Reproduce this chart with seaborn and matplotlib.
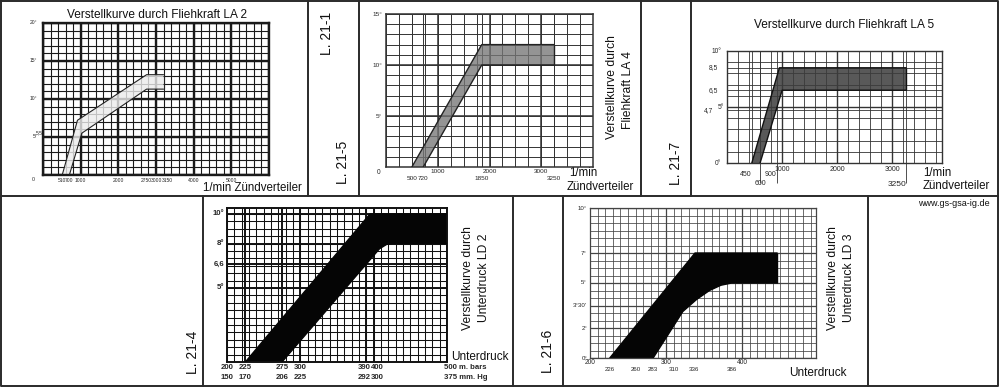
import matplotlib
matplotlib.use("Agg")
import matplotlib.pyplot as plt
import numpy as np
import seaborn as sns

sns.set_theme(style="white")
plt.rcParams["font.family"] = ["Liberation Sans", "DejaVu Sans"]

W, H = 1000, 388
PT = 72 / 100  # points per pixel at dpi 100

# ---- LA 2 (Fliehkraft) ----
la2_rpm_upper = [510, 915, 2750, 3200]
la2_deg_upper = [0, 7.2, 13.2, 13.2]
la2_rpm_lower = [700, 1030, 2750, 3200]
la2_deg_lower = [0, 5.5, 11.3, 11.3]
la2_xticks = [510, 700, 1000, 2000, 2750, 3000, 3150, 4000, 5000]
la2_xlabels = ["510", "700", "1000", "2000", "2750", "3000", "3150", "4000", "5000"]
la2_yticks = [5, 10, 15, 20]
la2_ylabels = ["5°", "10°", "15°", "20°"]

# ---- LA 4 ----
la4_rpm_upper = [500, 1850, 3250]
la4_deg_upper = [0, 12, 12]
la4_rpm_lower = [720, 1850, 3250]
la4_deg_lower = [0, 10, 10]
la4_xticks_main = [1000, 2000, 3000]
la4_xticks_mark = [500, 720, 1850, 3250]
la4_yticks = [5, 10, 15]
la4_ylabels = ["5°", "10°", "15°"]

# ---- LA 5 ----
la5_rpm_upper = [450, 950, 3250]
la5_deg_upper = [0, 8.5, 8.5]
la5_rpm_lower = [600, 1000, 3250]
la5_deg_lower = [0, 6.5, 6.5]
la5_xticks_main = [1000, 2000, 3000]
la5_yticks = [0, 4.7, 5, 6.5, 8.5, 10]
la5_ylabels = ["0°", "4,7", "5°", "6,5", "8,5", "10°"]

# ---- LD 2 (Unterdruck) ----
ld2_mbar_upper = [225, 395, 500]
ld2_deg_upper = [0, 10, 10]
ld2_mbar_lower = [275, 408, 418, 426, 500]
ld2_deg_lower = [0, 7.65, 7.95, 8, 8]
ld2_xticks = [200, 225, 275, 300, 390, 400, 500]
ld2_mbar_labels = ["200", "225", "275", "300", "390", "400", "500 m. bars"]
ld2_hg_labels = ["150", "170", "206", "225", "292", "300", "375 mm. Hg"]
ld2_yticks = [5, 6.6, 8, 10]
ld2_ylabels = ["5°", "6,6", "8°", "10°"]

# ---- LD 3 ----
ld3_mbar_upper = [226, 338, 446]
ld3_deg_upper = [0, 7, 7]
ld3_mbar_lower = [283, 300, 322, 340, 357, 372, 386, 446]
ld3_deg_lower = [0, 1.35, 3.1, 3.9, 4.5, 4.85, 5, 5]
ld3_xticks_high = [200, 300, 400]
ld3_xticks_low = [226, 260, 283, 310, 336, 386]
ld3_yticks = [0, 2, 3.5, 5, 7, 10]
ld3_ylabels = ["0°", "2°", "3°30'", "5°", "7°", "10°"]


def px_axes(fig, x0, y0, x1, y1):
    ax = fig.add_axes([x0 / W, 1 - y1 / H, (x1 - x0) / W, (y1 - y0) / H])
    ax.set_facecolor("none")
    ax.set_xticks([])
    ax.set_yticks([])
    return ax


def grid(ax, xs, ys, color, lw, xs_thick=(), ys_thick=(), lw_thick=None):
    y0, y1 = ax.get_ylim()
    x0, x1 = ax.get_xlim()
    ax.vlines(xs, y0, y1, colors=color, lw=lw, zorder=1)
    ax.hlines(ys, x0, x1, colors=color, lw=lw, zorder=1)
    if lw_thick:
        ax.vlines(list(xs_thick), y0, y1, colors=color, lw=lw_thick, zorder=1)
        ax.hlines(list(ys_thick), x0, x1, colors=color, lw=lw_thick, zorder=1)
    for s in ax.spines.values():
        s.set_color(color)
        s.set_linewidth(lw_thick or lw)


def band(ax, xu, yu, xl, yl, face, alpha, edge, lw):
    ax.fill(xu + xl[::-1], yu + yl[::-1], color=face, alpha=alpha, lw=0, zorder=2)
    sns.lineplot(x=xu, y=yu, ax=ax, sort=False, estimator=None, color=edge, lw=lw, zorder=3)
    sns.lineplot(x=xl, y=yl, ax=ax, sort=False, estimator=None, color=edge, lw=lw, zorder=3)
    ax.vlines([xu[-1]], yl[-1], yu[-1], colors=edge, lw=lw, zorder=3)
    ax.set_xlabel("")
    ax.set_ylabel("")


def xlab(ax, x, s, dy, size, ha="center", dx=0, **kw):
    ax.annotate(s, xy=(x, 0), xycoords=("data", "axes fraction"),
                xytext=(dx * PT, -dy * PT), textcoords="offset points",
                ha=ha, va="top", fontsize=size, **kw)


def ylab(ax, y, s, dx, size, **kw):
    ax.annotate(s, xy=(0, y), xycoords=("axes fraction", "data"),
                xytext=(-dx * PT, 0), textcoords="offset points",
                ha="right", va="center", fontsize=size, **kw)


fig = plt.figure(figsize=(W / 100, H / 100), dpi=100)
fig.patch.set_facecolor("white")

# background layer for frames and free text
bg = fig.add_axes([0, 0, 1, 1])
bg.set_xlim(0, W)
bg.set_ylim(H, 0)
bg.set_axis_off()
frame = dict(color="#2a2a2a", lw=1.4)
bg.plot([1, 998, 998, 1, 1], [1, 1, 386, 386, 1], **frame)
bg.plot([1, 998], [196, 196], **frame)
for x in (308, 359, 641, 691):
    bg.plot([x, x], [1, 196], **frame)
for x in (203, 513, 563, 868):
    bg.plot([x, x], [196, 386], **frame)

txt = dict(color="#111111")
bg.text(157, 15, "Verstellkurve durch Fliehkraft LA 2", fontsize=8.6, ha="center", va="center", **txt)
bg.text(302, 188, "1/min Zündverteiler", fontsize=8.3, ha="right", va="center", **txt)
bg.text(327, 33, "L. 21-1", fontsize=10, rotation=90, ha="center", va="center", **txt)
bg.text(343, 162, "L. 21-5", fontsize=10, rotation=90, ha="center", va="center", **txt)
bg.text(612, 87, "Verstellkurve durch", fontsize=8.7, rotation=90, ha="center", va="center", **txt)
bg.text(628, 90, "Fliehkraft LA 4", fontsize=8.7, rotation=90, ha="center", va="center", **txt)
bg.text(569, 173, "1/min", fontsize=8.3, ha="left", va="center", **txt)
bg.text(567, 187, "Zündverteiler", fontsize=8.3, ha="left", va="center", **txt)
bg.text(676, 163, "L. 21-7", fontsize=10, rotation=90, ha="center", va="center", **txt)
bg.text(844, 25, "Verstellkurve durch Fliehkraft LA 5", fontsize=8.6, ha="center", va="center", **txt)
bg.text(923, 173, "1/min", fontsize=8.3, ha="left", va="center", **txt)
bg.text(923, 186, "Zündverteiler", fontsize=8.3, ha="left", va="center", **txt)
bg.text(193, 352, "L. 21-4", fontsize=10, rotation=90, ha="center", va="center", **txt)
bg.text(468, 278, "Verstellkurve durch", fontsize=8.7, rotation=90, ha="center", va="center", **txt)
bg.text(484, 278, "Unterdruck LD 2", fontsize=8.7, rotation=90, ha="center", va="center", **txt)
bg.text(451, 357, "Unterdruck", fontsize=8.5, ha="left", va="center", **txt)
bg.text(548, 351, "L. 21-6", fontsize=10, rotation=90, ha="center", va="center", **txt)
bg.text(833, 278, "Verstellkurve durch", fontsize=8.7, rotation=90, ha="center", va="center", **txt)
bg.text(849, 278, "Unterdruck LD 3", fontsize=8.7, rotation=90, ha="center", va="center", **txt)
bg.text(789, 373, "Unterdruck", fontsize=8.5, ha="left", va="center", **txt)
bg.text(990, 203, "www.gs-gsa-ig.de", fontsize=6.5, ha="right", va="center", **txt)

# ---- LA 2 ----
ax = px_axes(fig, 43, 23, 269, 175)
ax.set_xlim(0, 6000)
ax.set_ylim(0, 20)
grid(ax, np.arange(0, 6001, 200), np.arange(0, 21, 1), "#1a1a1a", 0.8,
     np.arange(0, 6001, 1000), np.arange(0, 21, 5), 1.7)
band(ax, la2_rpm_upper, la2_deg_upper, la2_rpm_lower, la2_deg_lower, "#ececec", 0.8, "#222222", 0.8)
for x, s in zip(la2_xticks, la2_xlabels):
    xlab(ax, x, s, 3, 3.6, ha="left" if x == 3150 else "center")
for y, s in zip(la2_yticks, la2_ylabels):
    ylab(ax, y, s, 6, 3.6)
ylab(ax, 5.5, "5,5", 0, 3.6)
ax.annotate("0", xy=(0, 0), xytext=(-10 * PT, -5 * PT), textcoords="offset points",
            ha="center", va="center", fontsize=3.8)

# ---- LA 4 ----
ax = px_axes(fig, 386, 14, 593, 167)
ax.set_xlim(0, 4000)
ax.set_ylim(0, 15)
grid(ax, list(np.arange(0, 4001, 250)) + la4_xticks_mark, np.arange(0, 16, 1), "#333333", 0.7,
     la4_xticks_main, la4_yticks, 1.1)
band(ax, la4_rpm_upper, la4_deg_upper, la4_rpm_lower, la4_deg_lower, "#767676", 0.78, "#222222", 1.0)
for x in la4_xticks_main:
    xlab(ax, x, str(x), 2, 4.6)
for x in la4_xticks_mark:
    xlab(ax, x, str(x), 9, 4.6)
for y, s in zip(la4_yticks, la4_ylabels):
    ylab(ax, y, s, 4, 4.6)
ax.annotate("0", xy=(0, 0), xytext=(-7 * PT, -5 * PT), textcoords="offset points",
            ha="center", va="center", fontsize=4.8)

# ---- LA 5 ----
ax = px_axes(fig, 727, 51, 942, 163)
ax.set_xlim(0, 3900)
ax.set_ylim(0, 10)
grid(ax, list(np.arange(0, 3901, 200)) + [450, 600, 900, 3250], list(np.arange(0, 11, 1)) + [4.7, 6.5, 8.5],
     "#333333", 0.6, la5_xticks_main, [5], 1.0)
ax.vlines([600, 900, 3250], -1.8, 0, colors="#333333", lw=0.6, clip_on=False)
band(ax, la5_rpm_upper, la5_deg_upper, la5_rpm_lower, la5_deg_lower, "#3c3c3c", 0.85, "#111111", 1.0)
for x in la5_xticks_main:
    xlab(ax, x, str(x), 3, 5)
xlab(ax, 450, "450", 8, 5, ha="right")
xlab(ax, 900, "900", 8, 5, ha="right")
xlab(ax, 600, "600", 17, 5)
xlab(ax, 3250, "3250", 18, 6, ha="right")
la5_dx = [6, 14, 3, 9, 9, 6]
for y, s, dx in zip(la5_yticks, la5_ylabels, la5_dx):
    ylab(ax, y, s, dx, 4.8)

# ---- LD 2 ----
ax = px_axes(fig, 227, 208, 447, 362)
ax.set_xlim(200, 500)
ax.set_ylim(0, 10.4)
grid(ax, np.arange(200, 501, 10), np.arange(0, 10.5, 0.5), "#111111", 0.75,
     ld2_xticks, ld2_yticks, 1.4)
band(ax, ld2_mbar_upper, ld2_deg_upper, ld2_mbar_lower, ld2_deg_lower, "#050505", 1.0, "#050505", 1.0)
for x, s1, s2 in zip(ld2_xticks, ld2_mbar_labels, ld2_hg_labels):
    if x == 500:
        ha, off = "left", -3
    elif x == 390:
        ha, off = "right", 4
    elif x == 400:
        ha, off = "left", -3
    else:
        ha, off = "center", 0
    xlab(ax, x, s1, 2, 5.6, ha=ha, dx=off, fontweight="bold")
    xlab(ax, x, s2, 12, 5.6, ha=ha, dx=off, fontweight="bold")
for y, s in zip(ld2_yticks, ld2_ylabels):
    ylab(ax, y, s, 3, 5.6, fontweight="bold")

# ---- LD 3 ----
ax = px_axes(fig, 590, 208, 816, 358)
ax.set_xlim(200, 497)
ax.set_ylim(0, 10)
grid(ax, np.arange(200, 497, 10), np.arange(0, 10.5, 0.5), "#444444", 0.55,
     [300, 400], ld3_yticks, 0.9)
band(ax, ld3_mbar_upper, ld3_deg_upper, ld3_mbar_lower, ld3_deg_lower, "#050505", 1.0, "#050505", 1.0)
for x in ld3_xticks_high:
    xlab(ax, x, str(x), 1, 4.8)
for x in ld3_xticks_low:
    xlab(ax, x, str(x), 9, 4.4)
for y, s in zip(ld3_yticks, ld3_ylabels):
    ylab(ax, y, s, 3, 4.4)

fig.savefig("out.png", dpi=100, facecolor="white")
